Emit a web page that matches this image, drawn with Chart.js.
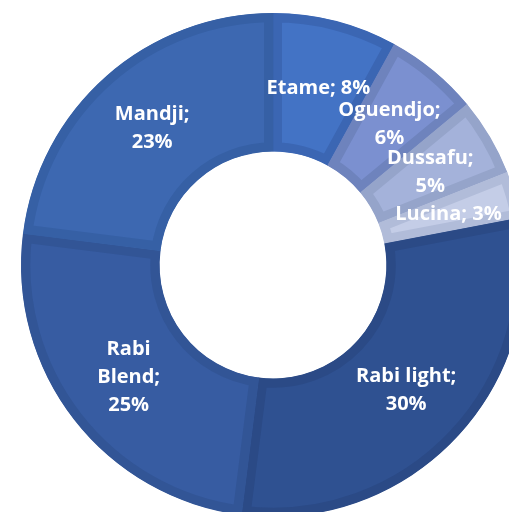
<!DOCTYPE html>
<html>
<head>
<meta charset="utf-8">
<script src="https://cdn.jsdelivr.net/npm/chart.js@4"></script>
<style>
  html, body { margin: 0; padding: 0; background: #ffffff; overflow: hidden; width: 509px; height: 512px; }
  #wrap { position: absolute; left: -27px; top: -35px; width: 600px; height: 600px; }
</style>
</head>
<body>
<div id="wrap"><canvas id="c"></canvas></div>
<script>
const categories = ["Etame", "Oguendjo", "Dussafu", "Lucina", "Rabi light", "Rabi Blend", "Mandji"];
const values = [8, 6, 5, 3, 30, 25, 23];
const labelLines = [
  ["Etame; 8%"],
  ["Oguendjo;", "6%"],
  ["Dussafu;", "5%"],
  ["Lucina; 3%"],
  ["Rabi light;", "30%"],
  ["Rabi", "Blend;", "25%"],
  ["Mandji;", "23%"]
];
const fillColors = ["#4373c5", "#7b90d0", "#a4b2da", "#c4cde7", "#2f5191", "#375ca2", "#3d68b1"];
const borderColors = ["#3b66b3", "#6e83bd", "#95a4ca", "#b1bcd9", "#2b4a86", "#325596", "#3660a5"];

const labelPlugin = {
  id: 'sliceLabels',
  afterDatasetsDraw(chart) {
    const ctx = chart.ctx;
    const meta = chart.getDatasetMeta(0);
    ctx.save();
    ctx.fillStyle = '#ffffff';
    ctx.font = 'bold 20px "Open Sans", sans-serif';
    ctx.textAlign = 'center';
    ctx.textBaseline = 'middle';
    const lh = 28;
    meta.data.forEach((arc, i) => {
      const p = arc.tooltipPosition();
      const lines = labelLines[i];
      const startY = p.y - (lines.length - 1) * lh / 2;
      lines.forEach((t, j) => ctx.fillText(t, p.x, startY + j * lh));
    });
    ctx.restore();
  }
};

new Chart(document.getElementById('c'), {
  type: 'doughnut',
  data: {
    labels: categories,
    datasets: [{
      data: values,
      backgroundColor: fillColors,
      borderColor: borderColors,
      borderWidth: 9,
      borderAlign: 'inner',
      clip: false
    }]
  },
  options: {
    responsive: true,
    maintainAspectRatio: false,
    animation: false,
    radius: 252,
    cutout: '45%',
    rotation: 0,
    layout: { padding: 0 },
    plugins: {
      legend: { display: false },
      tooltip: { enabled: false },
      title: { display: false }
    }
  },
  plugins: [labelPlugin]
});
</script>
</body>
</html>
